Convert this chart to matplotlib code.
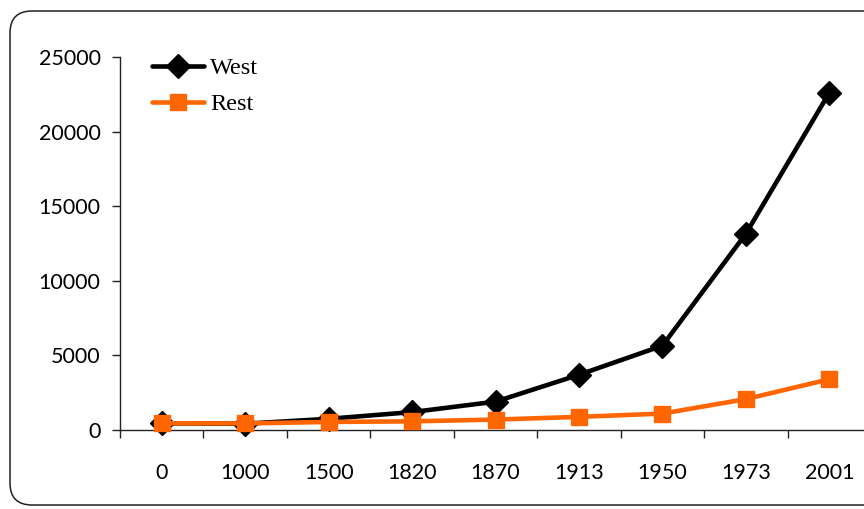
import matplotlib
matplotlib.use("Agg")
import matplotlib.pyplot as plt
from matplotlib.patches import FancyBboxPatch

categories = ["0", "1000", "1500", "1820", "1870", "1913", "1950", "1973", "2001"]
west = [450, 420, 750, 1200, 1900, 3700, 5650, 13150, 22600]
rest = [450, 440, 540, 580, 700, 880, 1100, 2070, 3400]
yticks = [0, 5000, 10000, 15000, 20000, 25000]

W, H, DPI = 864, 509, 100
fig = plt.figure(figsize=(W / DPI, H / DPI), dpi=DPI)

# rounded frame around the chart
frame = FancyBboxPatch((0.10, 0.04), 8.9, 4.94,
                       boxstyle="round,pad=0,rounding_size=0.22",
                       transform=fig.dpi_scale_trans, fill=False,
                       edgecolor="#222222", linewidth=1.1, clip_on=False)
fig.patches.append(frame)

ax = fig.add_axes([120 / W, 79 / H, 751 / W, 373 / H])
x = list(range(len(categories)))
ax.plot(x, west, color="black", lw=3.3, marker="D", ms=12, label="West",
        solid_capstyle="round", clip_on=False, zorder=3)
ax.plot(x, rest, color="#FF6600", lw=3.3, marker="s", ms=11, label="Rest",
        solid_capstyle="round", clip_on=False, zorder=4)

ax.set_xlim(-0.5, len(categories) - 0.5)
ax.set_ylim(0, 25000)
ax.set_yticks(yticks)
ax.set_yticklabels([str(v) for v in yticks])

ax.set_xticks([i - 0.5 for i in range(len(categories) + 1)])
ax.set_xticklabels([])
ax.set_xticks(x, minor=True)
ax.set_xticklabels(categories, minor=True)

for s in ("top", "right"):
    ax.spines[s].set_visible(False)
for s in ("left", "bottom"):
    ax.spines[s].set_linewidth(1.0)
    ax.spines[s].set_color("#222222")

ax.tick_params(axis="y", direction="out", length=6, width=1, pad=8,
               labelsize=15.5, colors="#222222", labelcolor="black")
ax.tick_params(axis="x", which="major", direction="out", length=6, width=1,
               colors="#222222")
ax.tick_params(axis="x", which="minor", length=0, pad=24, labelsize=15.5,
               labelcolor="black")
for lab in ax.get_yticklabels() + ax.get_xticklabels(minor=True):
    lab.set_fontfamily("Lato")

leg = ax.legend(loc="upper left", bbox_to_anchor=(152 / W, 1 - 57 / H),
                bbox_transform=fig.transFigure, frameon=False,
                prop={"family": "Liberation Serif", "size": 17.5},
                handlelength=2.15, handletextpad=0.25, labelspacing=0.58,
                borderpad=0, borderaxespad=0)

fig.savefig("out.png", dpi=DPI)
